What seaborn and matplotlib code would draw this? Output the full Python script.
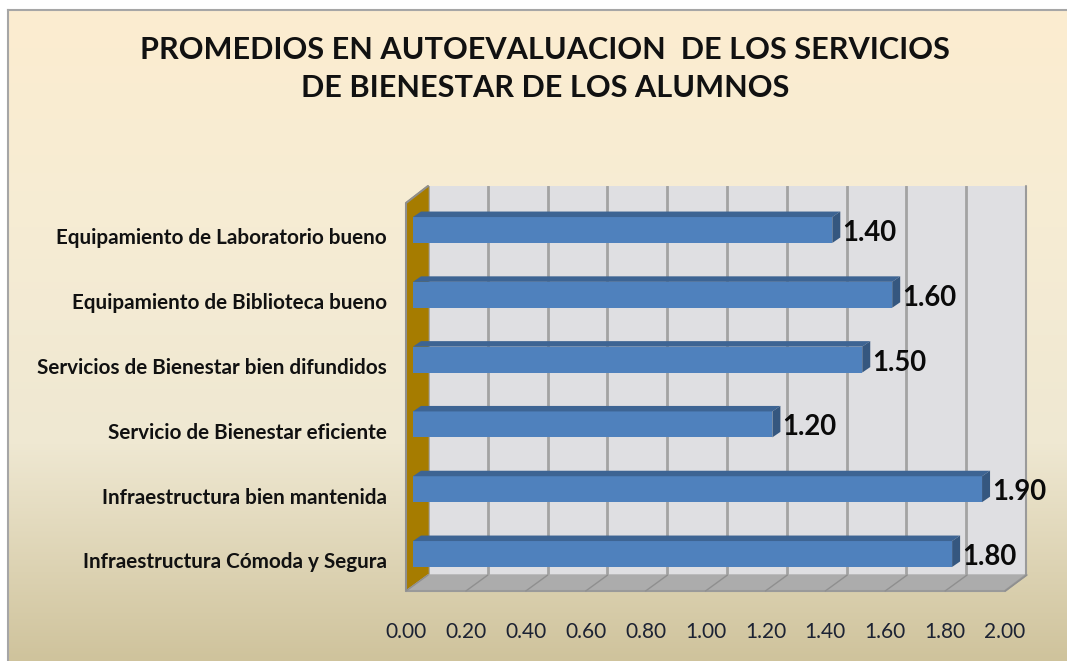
import numpy as np
import pandas as pd
import seaborn as sns
import matplotlib.pyplot as plt
from matplotlib.colors import LinearSegmentedColormap
from matplotlib.transforms import ScaledTranslation

servicios = ['Equipamiento de Laboratorio bueno', 'Equipamiento de Biblioteca bueno',
             'Servicios de Bienestar bien difundidos', 'Servicio de Bienestar eficiente',
             'Infraestructura bien mantenida', 'Infraestructura Cómoda y Segura']
promedios = [1.40, 1.60, 1.50, 1.20, 1.90, 1.80]
ticks = [0.00, 0.20, 0.40, 0.60, 0.80, 1.00, 1.20, 1.40, 1.60, 1.80, 2.00]
titulo = 'PROMEDIOS EN AUTOEVALUACION  DE LOS SERVICIOS\nDE BIENESTAR DE LOS ALUMNOS'

W, H = 1067, 661
df = pd.DataFrame({'servicio': servicios, 'promedio': promedios})

sns.set_style('white')
plt.rcParams['font.family'] = ['Lato', 'DejaVu Sans']

fig = plt.figure(figsize=(W / 100, H / 100), dpi=100, facecolor='white')


# ejes colocados en pixeles de la imagen (y hacia abajo)
def ejes_px(x0, x1, y0, y1, **kw):
    return fig.add_axes([x0 / W, 1 - y1 / H, (x1 - x0) / W, (y1 - y0) / H], **kw)


# fondo degradado
fondo = ejes_px(8, W, 10, H)
cmap = LinearSegmentedColormap.from_list('fondo', ['#fcedd0', '#f6ecd4', '#efe8d2', '#cfc39c'])
fondo.imshow(np.linspace(0, 1, 256).reshape(-1, 1), aspect='auto', cmap=cmap)
fondo.set_xticks([])
fondo.set_yticks([])
for lado in ['right', 'bottom']:
    fondo.spines[lado].set_visible(False)
for lado in ['left', 'top']:
    fondo.spines[lado].set_color('#a6a6a6')
    fondo.spines[lado].set_linewidth(1.5)

# pared del fondo con la rejilla
pared = ejes_px(428, 1026, 186, 575, facecolor='#dfdfe2')
pared.set_xlim(0, 2)
pared.set_xticks(ticks)
pared.set_yticks([])
pared.tick_params(length=0, labelbottom=False)
pared.grid(axis='x', color='#a3a3a3', lw=2)
pared.set_axisbelow(True)
sns.despine(ax=pared, left=True, right=True, top=True, bottom=True)

# lienzo para las caras laterales y el piso
lienzo = ejes_px(0, W, 0, H)
lienzo.set_xlim(0, W)
lienzo.set_ylim(H, 0)
lienzo.axis('off')
lienzo.fill([406, 428, 428, 406], [203, 186, 575, 591], color='#a67c00', zorder=2)
lienzo.plot([428, 406, 406], [186, 203, 591], color='#8f8f8f', lw=1.5, zorder=3)
lienzo.fill([406, 1005, 1026, 428], [591, 591, 575, 575], color='#acacac', zorder=2)
lienzo.plot([406, 1005, 1026, 1026], [591, 591, 575, 186], color='#9a9a9a', lw=1.5, zorder=3)
for t in ticks:
    lienzo.plot([406 + t * 299.5, 428 + t * 299.5], [591, 575], color='#8f8f8f', lw=1, zorder=3)

# barras
ax = ejes_px(413, 1012, 186, 591, facecolor='none')
sns.barplot(data=df, x='promedio', y='servicio', orient='h', color='#4f81bd', saturation=1,
            width=0.40, linewidth=0, ax=ax)
ax.set_xlim(0, 2)
ax.set_ylim((591 - 230) / 64.8, (186 - 230) / 64.8)
ax.set_xlabel('')
ax.set_ylabel('')
ax.set_xticks([])
ax.tick_params(axis='y', length=0, pad=19)
baja = ScaledTranslation(0, -6.5 / 100, fig.dpi_scale_trans)
for etiqueta in ax.get_yticklabels():
    etiqueta.set_fontsize(14.85)
    etiqueta.set_fontweight('bold')
    etiqueta.set_color('#111111')
    etiqueta.set_transform(etiqueta.get_transform() + baja)
sns.despine(ax=ax, left=True, right=True, top=True, bottom=True)

# profundidad de las barras
dx, dy = 8 / 299.5, 5.5 / 64.8
for barra in ax.containers[0]:
    x1 = barra.get_width()
    y0, y1 = barra.get_y(), barra.get_y() + barra.get_height()
    ax.fill([0, dx, x1 + dx, x1], [y0, y0 - dy, y0 - dy, y0], color='#3d6493', lw=0, zorder=1.5)
    ax.fill([x1, x1 + dx, x1 + dx, x1], [y0, y0 - dy, y1 - dy, y1], color='#35577f', lw=0, zorder=1.5)
valores = ax.bar_label(ax.containers[0], fmt='%.2f', padding=7, fontsize=19.8, fontweight='bold', color='#0a0a0a')
for valor in valores:
    valor.xyann = (valor.xyann[0], valor.xyann[1] - 2.2)

# eje de valores, delante de la barra
piso = ejes_px(406, 1005, 575, 591, facecolor='none')
piso.set_xlim(0, 2)
piso.set_xticks(ticks, [f'{t:.2f}' for t in ticks])
piso.set_yticks([])
piso.tick_params(axis='x', length=0, pad=22.5, labelsize=15, labelcolor='#1c2233')
sns.despine(ax=piso, left=True, right=True, top=True, bottom=True)

fig.text(545 / W, 1 - 69 / H, titulo, ha='center', va='center', fontsize=22.1, fontweight='bold',
         color='#111111', linespacing=1.47)

fig.savefig('out.png', dpi=100)
